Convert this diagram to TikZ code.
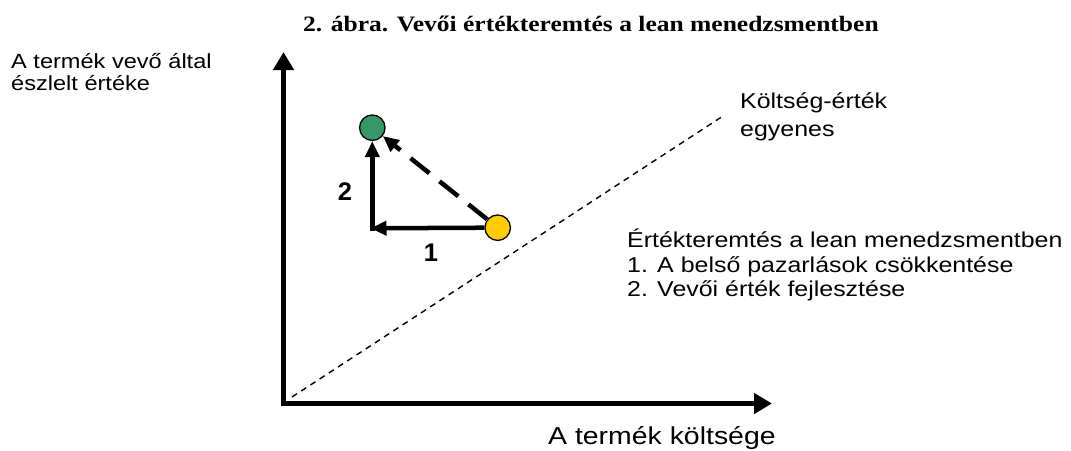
\documentclass[tikz,border=0pt]{standalone}
\usepackage{fontspec}
\usepackage{graphicx}
\setmainfont{Liberation Sans}
\newfontfamily\titlefont{Liberation Serif}
\usetikzlibrary{arrows.meta}
\definecolor{dotgreen}{RGB}{51,153,102}
\definecolor{dotyellow}{RGB}{255,204,0}
\newcommand{\hstretch}[2]{\scalebox{#1}[1]{#2}}
\begin{document}
\begin{tikzpicture}[x=1pt,y=-1pt,
  line/.style={anchor=base west, inner sep=0pt, font=\fontsize{21.5}{25}\selectfont},
  axislbl/.style={anchor=base west, inner sep=0pt, font=\fontsize{20.5}{23}\selectfont},
  numlbl/.style={inner sep=0pt, font=\bfseries\fontsize{25.5}{30}\selectfont},
  dot/.style={circle, draw=black, line width=1.3pt, minimum size=25.5pt, inner sep=0pt},
  axis/.style={line width=5.5pt, {Triangle[width=20pt,length=18pt]}-{Triangle[width=20pt,length=18pt]}},
  move/.style={line width=4.5pt, -{Triangle[width=14pt,length=16pt]}},
  diag/.style={line width=1.4pt, dash pattern=on 6pt off 5pt}]
\useasboundingbox (0,0) rectangle (1071,450);

% title
\node[anchor=base west, inner sep=0pt, font=\titlefont\bfseries\fontsize{22}{26}\selectfont] (title) at (303,31)
  {\hstretch{1.16}{2. ábra. Vevői értékteremtés a lean menedzsmentben}};

% axes
\coordinate (ytip) at (283.5,52);
\coordinate (origin) at (283.5,403.5);
\coordinate (xtip) at (772,403.5);
\draw[axis] (ytip) -- (origin) -- (xtip);

% cost-value line
\coordinate (dstart) at (292,397);
\coordinate (dend) at (723,116);
\draw[diag] (dstart) -- (dend);

% points
\node[dot, fill=dotgreen] (green) at (372.3,127.7) {};
\node[dot, fill=dotyellow] (yellow) at (497.7,227.7) {};
\coordinate (cornerlow) at (372.3,230.5);
\coordinate (htip) at (370.5,228.3);

\draw[move] (yellow.west) -- (htip);
\draw[move] (cornerlow) -- (green.south);
\draw[move, dash pattern=on 24pt off 13pt] (yellow) -- (green);

\node[numlbl] (n2) at (345,192) {2};
\node[numlbl] (n1) at (431,253) {1};

% axis labels
\node[axislbl] (yl1) at (11,68) {\hstretch{1.15}{A termék vevő által}};
\node[axislbl] (yl2) at (11,90) {\hstretch{1.15}{észlelt értéke}};
\node[anchor=base west, inner sep=0pt, font=\fontsize{24.5}{28}\selectfont] (xl) at (548,444)
  {\hstretch{1.16}{A termék költsége}};

% line label
\node[line] (cl1) at (740,108) {\hstretch{1.16}{Költség-érték}};
\node[line] (cl2) at (740,136) {\hstretch{1.16}{egyenes}};

% legend
\node[line] (lg1) at (627,247) {\hstretch{1.16}{Értékteremtés a lean menedzsmentben}};
\node[line] (lg2) at (627,272) {\hstretch{1.16}{1. A belső pazarlások csökkentése}};
\node[line] (lg3) at (627,296) {\hstretch{1.16}{2. Vevői érték fejlesztése}};
\end{tikzpicture}
\end{document}
